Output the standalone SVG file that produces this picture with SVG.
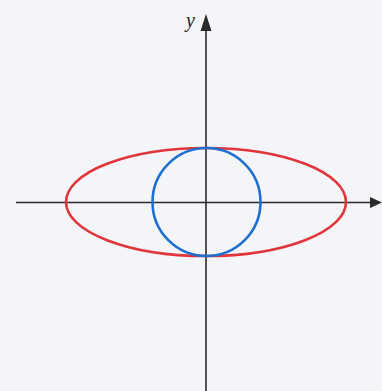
<svg xmlns="http://www.w3.org/2000/svg" width="382" height="391" viewBox="0 0 382 391">
<style>
.axis{stroke:#2a2a2a;stroke-width:1.6;fill:none}
.lbl{font-family:"Liberation Serif",serif;font-style:italic;font-size:20px;fill:#222}
</style>
<rect width="382" height="391" fill="#f4f5f8"/>
<g id="axes">
<line class="axis" x1="16" y1="202.5" x2="372" y2="202.5"/>
<path d="M206,391 L206,30" class="axis"/>
<path d="M206,14 L211.5,31 L200.5,31 Z" fill="#2a2a2a"/>
<path d="M370,197 L382,202.5 L370,208 Z" fill="#2a2a2a"/>
<text class="lbl" x="186" y="27">y</text>
</g>
<g id="ellipse">
<ellipse cx="206" cy="202" rx="140" ry="54" fill="none" stroke="#e0353a" stroke-width="2.6"/>
</g>
<g id="circle">
<circle cx="206.5" cy="202" r="54" fill="none" stroke="#1f6fd0" stroke-width="2.6"/>
</g>
</svg>
